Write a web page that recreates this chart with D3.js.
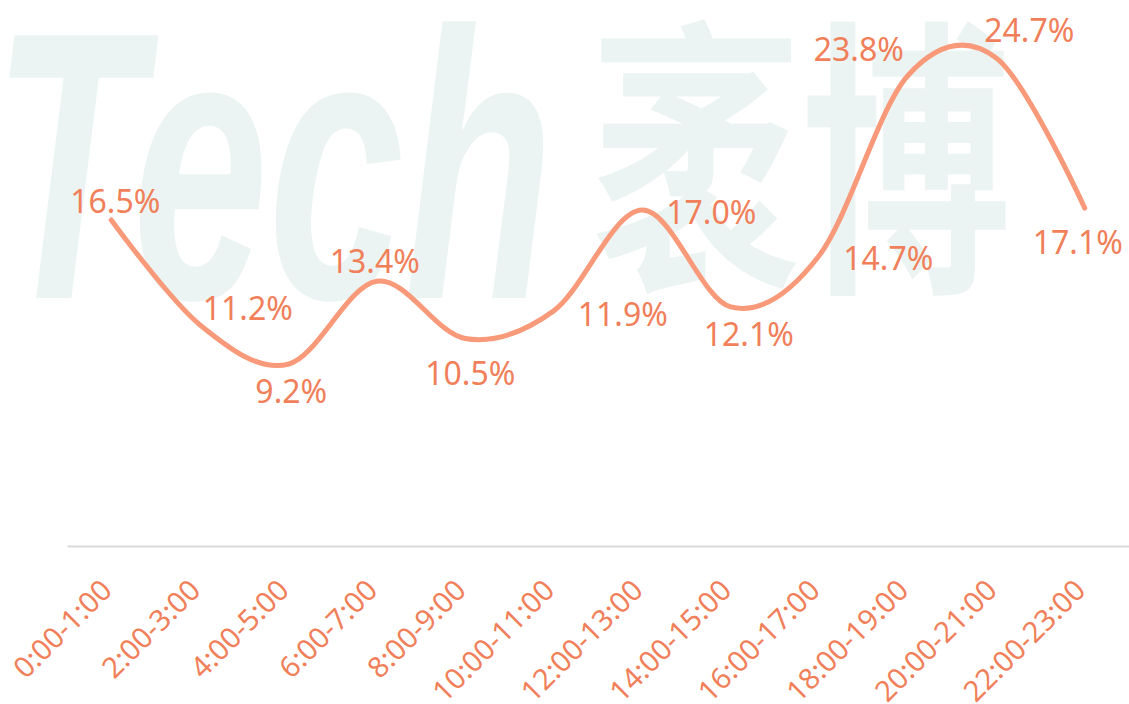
<!DOCTYPE html>
<html>
<head>
<meta charset="utf-8">
<script src="https://cdn.jsdelivr.net/npm/d3@7"></script>
<style>
  html, body { margin: 0; padding: 0; background: #fff; }
  svg { display: block; }
</style>
</head>
<body>
<svg id="chart"></svg>
<script>
const categories = ['0:00-1:00', '2:00-3:00', '4:00-5:00', '6:00-7:00', '8:00-9:00', '10:00-11:00',
    '12:00-13:00', '14:00-15:00', '16:00-17:00', '18:00-19:00', '20:00-21:00', '22:00-23:00']
const values = [16.5, 11.2, 9.2, 13.4, 10.5, 11.9, 17.0, 12.1, 14.7, 23.8, 24.7, 17.1]

// where each value label sits relative to its point
const labelOffsets = [[4, -7], [48, -5], [3, 39], [-2, -8], [5, 46], [69, 15],
    [69, 14], [18, 39], [69, 14], [-49, -15], [33, -16], [-7, 46]]

const width = 1129
const height = 704
const plot = { left: 67, right: 1129, bottom: 546 }

const svg = d3.select('#chart')
    .attr('width', width)
    .attr('height', height)

// watermark
const wm = svg.append('g').attr('fill', '#ebf4f2')
wm.append('text')
    .attr('transform', 'translate(-8,298) scale(0.64,1)')
    .attr('font-family', 'Liberation Sans, Arial, sans-serif')
    .attr('font-weight', 'bold')
    .attr('font-style', 'italic')
    .attr('font-size', 382)
    .text('Tech')
wm.append('text')
    .attr('transform', 'translate(591,270) scale(0.72,1)')
    .attr('font-family', 'Noto Sans CJK SC, sans-serif')
    .attr('font-weight', 'bold')
    .attr('font-size', 292)
    .text('袤博')

const x = d3.scalePoint()
    .domain(categories)
    .range([plot.left, plot.right])
    .padding(0.5)

const y = d3.scaleLinear()
    .domain([0, 25])
    .range([plot.bottom, 52])

// x axis
const xAxis = d3.axisBottom(x).tickSize(0).tickPadding(0)
const gx = svg.append('g')
    .attr('transform', `translate(0,${plot.bottom})`)
    .call(xAxis)
gx.select('.domain')
    .attr('stroke', '#d9d9d9')
    .attr('stroke-width', 2)
gx.selectAll('text')
    .attr('fill', '#f07f5a')
    .attr('font-family', 'Noto Sans, Open Sans, sans-serif')
    .attr('font-size', 29)
    .attr('text-anchor', 'end')
    .attr('dy', null)
    .attr('transform', 'translate(2,46) rotate(-45)')

// line
const line = d3.line()
    .x((d, i) => x(categories[i]))
    .y(d => y(d))
    .curve(d3.curveCardinal.tension(0))

svg.append('path')
    .datum(values)
    .attr('fill', 'none')
    .attr('stroke', '#f89a7a')
    .attr('stroke-width', 5)
    .attr('stroke-linecap', 'round')
    .attr('d', line)

// value labels
svg.selectAll('.lbl')
    .data(values)
    .enter()
    .append('text')
    .attr('class', 'lbl')
    .attr('x', (d, i) => x(categories[i]) + labelOffsets[i][0])
    .attr('y', (d, i) => y(d) + labelOffsets[i][1])
    .attr('text-anchor', 'middle')
    .attr('fill', '#f07f5a')
    .attr('font-family', 'Noto Sans, Open Sans, sans-serif')
    .attr('font-size', 32)
    .text(d => d.toFixed(1) + '%')
</script>
</body>
</html>
